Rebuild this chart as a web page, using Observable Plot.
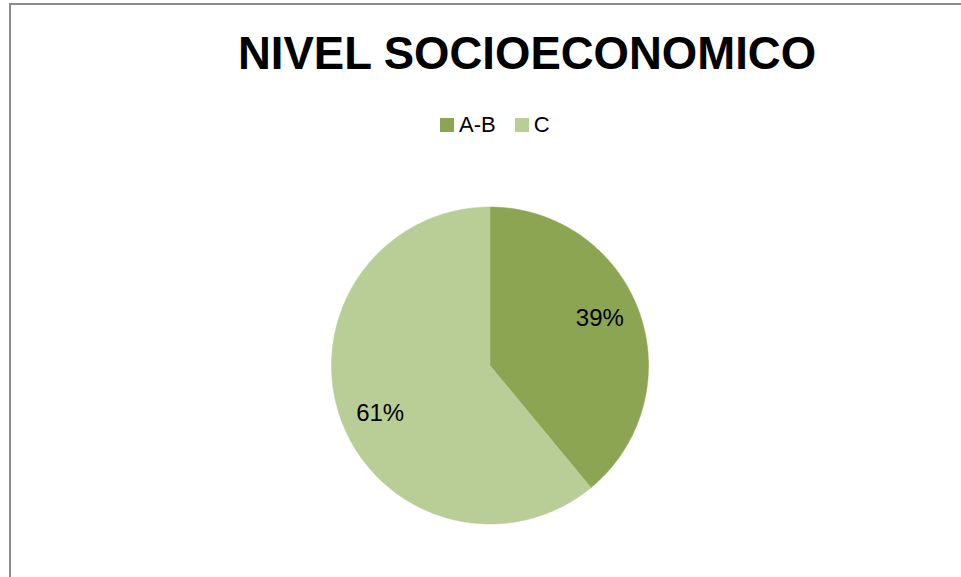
<!DOCTYPE html>
<html>
<head>
<meta charset="utf-8">
<script src="https://cdn.jsdelivr.net/npm/d3@7"></script>
<script src="https://cdn.jsdelivr.net/npm/@observablehq/plot@0.6"></script>
<style>
  html, body { margin: 0; padding: 0; background: #fff; overflow: hidden; }
  body { width: 961px; height: 577px; position: relative; font-family: "Liberation Sans", Arial, sans-serif; }
  #frame { position: absolute; left: 9px; top: 3px; width: 1000px; height: 700px; border: 2px solid #8c8c8c; box-sizing: border-box; pointer-events: none; }
  #header { position: relative; height: 150px; }
  #title { position: absolute; left: 0; width: 1054px; top: 30.5px; text-align: center; font-weight: bold; font-size: 45.5px; line-height: 45.5px; color: #000; white-space: nowrap; }
  #legend { position: absolute; left: 440px; top: 114.4px; font-size: 22px; line-height: 22px; color: #000; white-space: nowrap; display: flex; align-items: center; }
  .sw { display: inline-block; width: 14px; height: 14px; margin-right: 5px; }
  .item { display: inline-flex; align-items: center; margin-right: 19px; }
  #chart { position: relative; }
</style>
</head>
<body>
<div id="frame"></div>
<div id="header">
  <div id="title"></div>
  <div id="legend"></div>
</div>
<div id="chart"></div>
<script>
const title = "NIVEL SOCIOECONOMICO";
const categories = ["A-B", "C"];
const values = [39, 61];
const labels = ["39%", "61%"];
const colors = ["#8ba552", "#b9cd96"];

document.getElementById("title").textContent = title;
const legend = document.getElementById("legend");
categories.forEach((c, i) => {
  const item = document.createElement("span");
  item.className = "item";
  const sw = document.createElement("span");
  sw.className = "sw";
  sw.style.background = colors[i];
  item.appendChild(sw);
  item.appendChild(document.createTextNode(c));
  legend.appendChild(item);
});

// slice geometry from d3.pie (clockwise from 12 o'clock)
const arcs = d3.pie().sort(null).value(d => d)(values);
const polys = [];
const labelPts = [];
arcs.forEach((a, i) => {
  const n = Math.max(2, Math.ceil((a.endAngle - a.startAngle) / 0.01));
  polys.push({cat: categories[i], x: 0, y: 0});
  for (let k = 0; k <= n; k++) {
    const t = a.startAngle + (a.endAngle - a.startAngle) * k / n;
    polys.push({cat: categories[i], x: Math.sin(t), y: Math.cos(t)});
  }
  polys.push({cat: categories[i], x: 0, y: 0});
  const m = (a.startAngle + a.endAngle) / 2 - 0.063;
  labelPts.push({cat: categories[i], label: labels[i], x: 0.755 * Math.sin(m), y: 0.755 * Math.cos(m)});
});

const chart = Plot.plot({
  width: 961,
  height: 400,
  marginLeft: 331,
  marginRight: 313,
  marginTop: 56.5,
  marginBottom: 26.5,
  x: {domain: [-1, 1], axis: null},
  y: {domain: [-1, 1], axis: null},
  color: {domain: categories, range: colors},
  style: {fontFamily: "Liberation Sans, Arial, sans-serif", background: "transparent"},
  marks: [
    Plot.line(polys, {x: "x", y: "y", z: "cat", fill: "cat", stroke: "cat", strokeWidth: 0.5, curve: "linear"}),
    Plot.text(labelPts, {x: "x", y: "y", text: "label", fontSize: 24, fill: "#000"})
  ]
});
document.getElementById("chart").appendChild(chart);
</script>
</body>
</html>
